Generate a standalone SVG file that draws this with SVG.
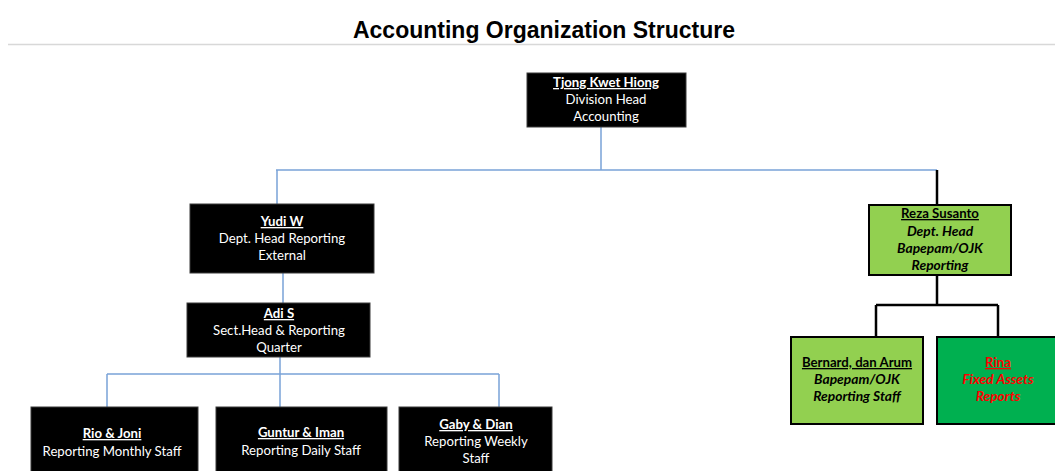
<svg xmlns="http://www.w3.org/2000/svg" width="1055" height="471" viewBox="0 0 1055 471">
<style>
.t{font-family:Lato,"Liberation Sans",sans-serif;font-size:13.2px;text-anchor:middle}
.w{fill:#fff}
.k{fill:#000}
.r{fill:#ff0000}
.n{font-weight:bold;text-decoration:underline}
.bi{font-weight:bold;font-style:italic;font-size:13.8px}
.blk{fill:#000;stroke:#3a3a3a;stroke-width:1}
.g1{fill:#92d050;stroke:#000;stroke-width:2}
.g2{fill:#00b050;stroke:#000;stroke-width:2}
.cb{stroke:#7aa3d8;stroke-width:1.5;fill:none}
.ck{stroke:#000;stroke-width:2.5;fill:none}
</style>
<rect width="1055" height="471" fill="#fff"/>
<text x="544" y="38" font-family="'Liberation Sans',Arial,sans-serif" font-size="23" font-weight="bold" text-anchor="middle" fill="#000">Accounting Organization Structure</text>
<line x1="8" y1="44.5" x2="1055" y2="44.5" stroke="#d8d8d8" stroke-width="1.5"/>
<g id="connectors">
<path class="cb" d="M601 127V170M276 170H937M277 170V205"/>
<path class="ck" d="M937 170V205"/>
<path class="cb" d="M283 273V303M280 357V409M107 374H499M107 374V407M499 374V407"/>
<path class="ck" d="M937 275V305M876 305H998M876 305V336M998 305V336"/>
</g>
<g id="tjong">
<rect class="blk" x="527" y="73" width="159" height="54"/>
<text class="t w n" x="606" y="87">Tjong Kwet Hiong</text>
<text class="t w" x="606" y="104">Division Head</text>
<text class="t w" x="606" y="121">Accounting</text>
</g>
<g id="yudi">
<rect class="blk" x="190" y="204" width="184" height="69"/>
<text class="t w n" x="282" y="226">Yudi W</text>
<text class="t w" x="282" y="243">Dept. Head Reporting</text>
<text class="t w" x="282" y="260">External</text>
</g>
<g id="adi">
<rect class="blk" x="187" y="303" width="183" height="54"/>
<text class="t w n" x="279" y="318">Adi S</text>
<text class="t w" x="279" y="335">Sect.Head &amp; Reporting</text>
<text class="t w" x="279" y="352">Quarter</text>
</g>
<g id="rio">
<rect class="blk" x="31" y="407" width="167" height="68"/>
<text class="t w n" x="112" y="438">Rio &amp; Joni</text>
<text class="t w" x="112" y="456">Reporting Monthly Staff</text>
</g>
<g id="guntur">
<rect class="blk" x="216" y="407" width="171" height="68"/>
<text class="t w n" x="301" y="437">Guntur &amp; Iman</text>
<text class="t w" x="301" y="455">Reporting Daily Staff</text>
</g>
<g id="gaby">
<rect class="blk" x="399" y="407" width="153" height="68"/>
<text class="t w n" x="476" y="429">Gaby &amp; Dian</text>
<text class="t w" x="476" y="446">Reporting Weekly</text>
<text class="t w" x="476" y="463">Staff</text>
</g>
<g id="reza">
<rect class="g1" x="869" y="205" width="142" height="70"/>
<text class="t k n" x="940" y="218">Reza Susanto</text>
<text class="t k bi" x="940" y="236">Dept. Head</text>
<text class="t k bi" x="940" y="253">Bapepam/OJK</text>
<text class="t k bi" x="940" y="270">Reporting</text>
</g>
<g id="bernard">
<rect class="g1" x="791" y="337" width="132" height="87"/>
<text class="t k n" x="857" y="367">Bernard, dan Arum</text>
<text class="t k bi" x="857" y="384">Bapepam/OJK</text>
<text class="t k bi" x="857" y="401">Reporting Staff</text>
</g>
<g id="rina">
<rect class="g2" x="937" y="337" width="125" height="87"/>
<text class="t r n" x="998" y="367">Rina</text>
<text class="t r bi" x="998" y="384">Fixed Assets</text>
<text class="t r bi" x="998" y="401">Reports</text>
</g>
</svg>
